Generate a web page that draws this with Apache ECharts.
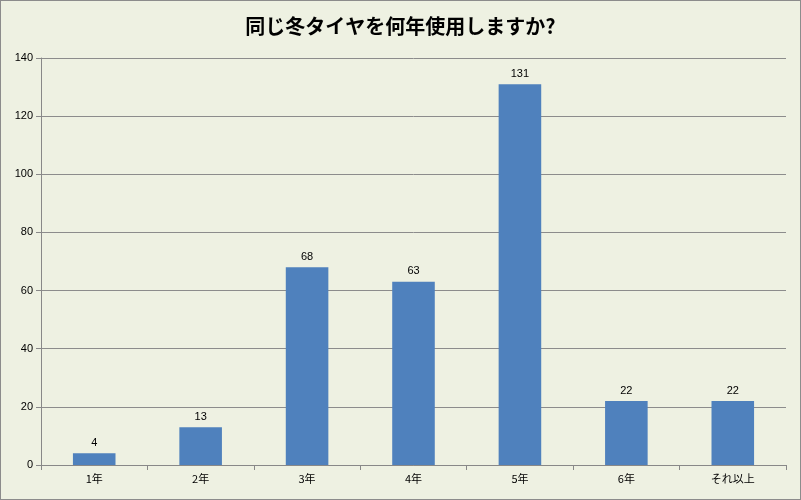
<!DOCTYPE html>
<html>
<head>
<meta charset="utf-8">
<script src="https://cdn.jsdelivr.net/npm/echarts@6/dist/echarts.min.js"></script>
<style>
  html, body { margin: 0; padding: 0; background: #eef1e2; }
  #chart { width: 799px; height: 498px; border: 1px solid #8c8c8c; }
</style>
</head>
<body>
<div id="chart"></div>
<script>
// 冬タイヤの使用年数アンケート
var categories = ["1年", "2年", "3年", "4年", "5年", "6年", "それ以上"];
var counts = [4, 13, 68, 63, 131, 22, 22];
var yTicks = { min: 0, max: 140, interval: 20 };

var myChart = echarts.init(document.getElementById("chart"));
myChart.setOption({
    backgroundColor: "#eef1e2",
    animation: false,
    title: {
        text: "同じ冬タイヤを何年使用しますか?",
        left: "center",
        top: 10,
        textStyle: { fontFamily: "Noto Sans CJK JP", fontSize: 20, fontWeight: "bold", color: "#000" }
    },
    grid: { left: 40, right: 14, top: 57, bottom: 34 },
    xAxis: {
        type: "category",
        data: categories,
        axisLine: { lineStyle: { color: "#888" } },
        axisTick: { show: true, lineStyle: { color: "#888" } },
        axisLabel: { color: "#000", fontSize: 11, fontFamily: "Noto Sans CJK JP" }
    },
    yAxis: {
        type: "value",
        min: yTicks.min,
        max: yTicks.max,
        interval: yTicks.interval,
        axisLine: { show: true, lineStyle: { color: "#888" } },
        axisTick: { show: true, lineStyle: { color: "#888" } },
        axisLabel: { color: "#000", fontSize: 11 },
        splitLine: { lineStyle: { color: "#8c8c8c" } }
    },
    series: [{
        type: "bar",
        data: counts,
        barWidth: "40%",
        itemStyle: { color: "#4f81bd" },
        label: { show: true, position: "top", color: "#000", fontSize: 11 }
    }]
});
</script>
</body>
</html>
